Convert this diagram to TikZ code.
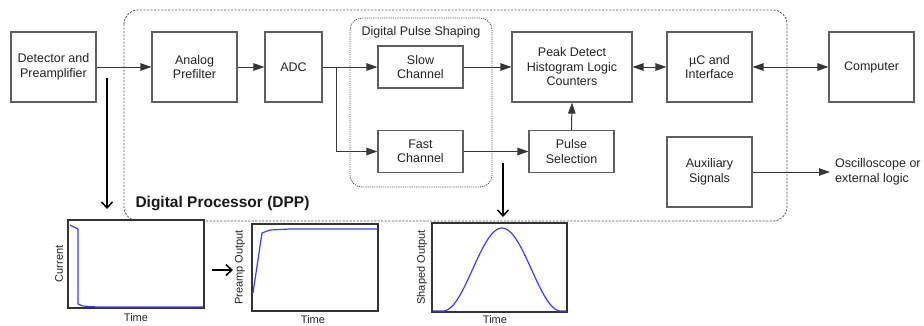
\documentclass[tikz,border=0pt]{standalone}
\usepackage{fontspec}
\setmainfont{Liberation Sans}
\usetikzlibrary{arrows.meta}
\definecolor{boxgray}{RGB}{95,95,95}
\definecolor{linegray}{RGB}{55,55,55}
\definecolor{txt}{RGB}{35,35,35}
\definecolor{dashgray}{RGB}{85,85,85}
\definecolor{curveblue}{RGB}{60,60,250}
\begin{document}
\begin{tikzpicture}[x=1pt,y=-1pt,
  blk/.style={draw=boxgray, line width=1.1pt, fill=white, align=center, inner sep=0pt,
    text=txt, font=\fontsize{12.5}{14.5}\selectfont},
  conn/.style={draw=linegray, line width=1pt, -{Triangle[length=11pt,width=7.5pt]}},
  dconn/.style={draw=linegray, line width=1pt, {Triangle[length=11pt,width=7.5pt]}-{Triangle[length=11pt,width=7.5pt]}},
  stick/.style={draw=black, line width=1.5pt, -{Straight Barb[length=6pt,width=11pt,line width=1.5pt]}},
  plotbox/.style={draw=black!80, line width=1.2pt, fill=white, inner sep=0pt},
  curve/.style={draw=curveblue, line width=1.2pt, line join=round},
  axlabel/.style={text=txt, font=\fontsize{11}{13}\selectfont, inner sep=0pt},
  outerbox/.style={draw=dashgray, line width=0.8pt, dash pattern=on 2.2pt off 1.3pt, rounded corners=14pt},
  innerbox/.style={draw=dashgray, line width=0.8pt, dash pattern=on 1.2pt off 1pt, rounded corners=12pt}
]
\useasboundingbox (0,0) rectangle (924,325);

% outer DPP region
\draw[outerbox] (124,10) rectangle (787,221);
% digital pulse shaping region
\draw[innerbox] (350,18) rectangle (492,187);
\node[text=txt, font=\fontsize{12.5}{14.5}\selectfont, inner sep=0pt] (dpslabel) at (421,32) {Digital Pulse Shaping};

% blocks
\node[blk, minimum width=85pt, minimum height=70pt] (det) at (53.5,67) {Detector and\\Preamplifier};
\node[blk, minimum width=85pt, minimum height=70pt] (apf) at (194.5,67) {Analog\\Prefilter};
\node[blk, minimum width=57pt, minimum height=70pt] (adc) at (293.5,67) {ADC};
\node[blk, minimum width=85pt, minimum height=42pt] (slow) at (420.5,67) {Slow\\Channel};
\node[blk, minimum width=85pt, minimum height=42pt] (fast) at (420.5,151.5) {Fast\\Channel};
\node[blk, minimum width=120pt, minimum height=70pt] (peak) at (572,67) {Peak Detect\\Histogram Logic\\Counters};
\node[blk, minimum width=85pt, minimum height=42pt] (psel) at (571.5,151.5) {Pulse\\Selection};
\node[blk, minimum width=85pt, minimum height=70pt] (uc) at (709.5,67) {µC and\\Interface};
\node[blk, minimum width=85pt, minimum height=70pt] (comp) at (871.5,67) {Computer};
\node[blk, minimum width=85pt, minimum height=70pt] (aux) at (709.5,172) {Auxiliary\\Signals};
\node[text=txt, font=\fontsize{12.5}{14.5}\selectfont, align=left, anchor=west, inner sep=0pt] (osc) at (835,172) {Oscilloscope or\\external logic};

% connectors
\draw[conn] (det.east) -- (apf.west);
\draw[conn] (apf.east) -- (adc.west);
\draw[conn] (adc.east) -- (slow.west);
\coordinate (br) at (336,67);
\draw[conn] (br) |- (fast.west);
\draw[conn] (slow.east) -- (peak.west);
\draw[conn] (fast.east) -- (psel.west);
\draw[conn] (psel.north) -- (peak.south);
\draw[dconn] (peak.east) -- (uc.west);
\draw[dconn] (uc.east) -- (comp.west);
\draw[conn] (aux.east) -- ([xshift=-5pt]osc.west);

% title
\node[text=black!90, font=\bfseries\fontsize{15.5}{18}\selectfont, inner sep=0pt] (dpp) at (222.5,204) {Digital Processor (DPP)};

% plots
\node[plotbox, minimum width=136pt, minimum height=88pt] (p1) at (136,264) {};
\node[plotbox, minimum width=126pt, minimum height=87pt] (p2) at (315,267.5) {};
\node[plotbox, minimum width=135pt, minimum height=89pt] (p3) at (499.5,267.5) {};

\draw[curve] (70,225) -- (78,229) -- (78,304) -- (83,306) -- (97,307) -- (203,307);
\draw[curve] (253,293) -- (262,233) -- (270,230) -- (290,229) -- (377,229);
\draw[curve] (433,311) -- (443,311)
  plot[domain=0:1, samples=80] ({443+118*\x}, {311-83*(0.5-0.5*cos(360*\x))})
  -- (566,311);

\node[axlabel, rotate=90] (l1) at (59,264) {Current};
\node[axlabel, rotate=90] (l2) at (240,267.5) {Preamp Output};
\node[axlabel, rotate=90] (l3) at (422,267.5) {Shaped Output};
\node[axlabel] (t1) at (136,318) {Time};
\node[axlabel] (t2) at (313,319.5) {Time};
\node[axlabel] (t3) at (495,319.5) {Time};

% signal arrows
\coordinate (a1s) at (107,78);
\coordinate (a1e) at (107,209);
\draw[stick] (a1s) -- (a1e);
\coordinate (a2s) at (212,270);
\coordinate (a2e) at (233,270);
\draw[stick] (a2s) -- (a2e);
\coordinate (a3s) at (503,163);
\coordinate (a3e) at (503,217);
\draw[stick] (a3s) -- (a3e);
\end{tikzpicture}
\end{document}
